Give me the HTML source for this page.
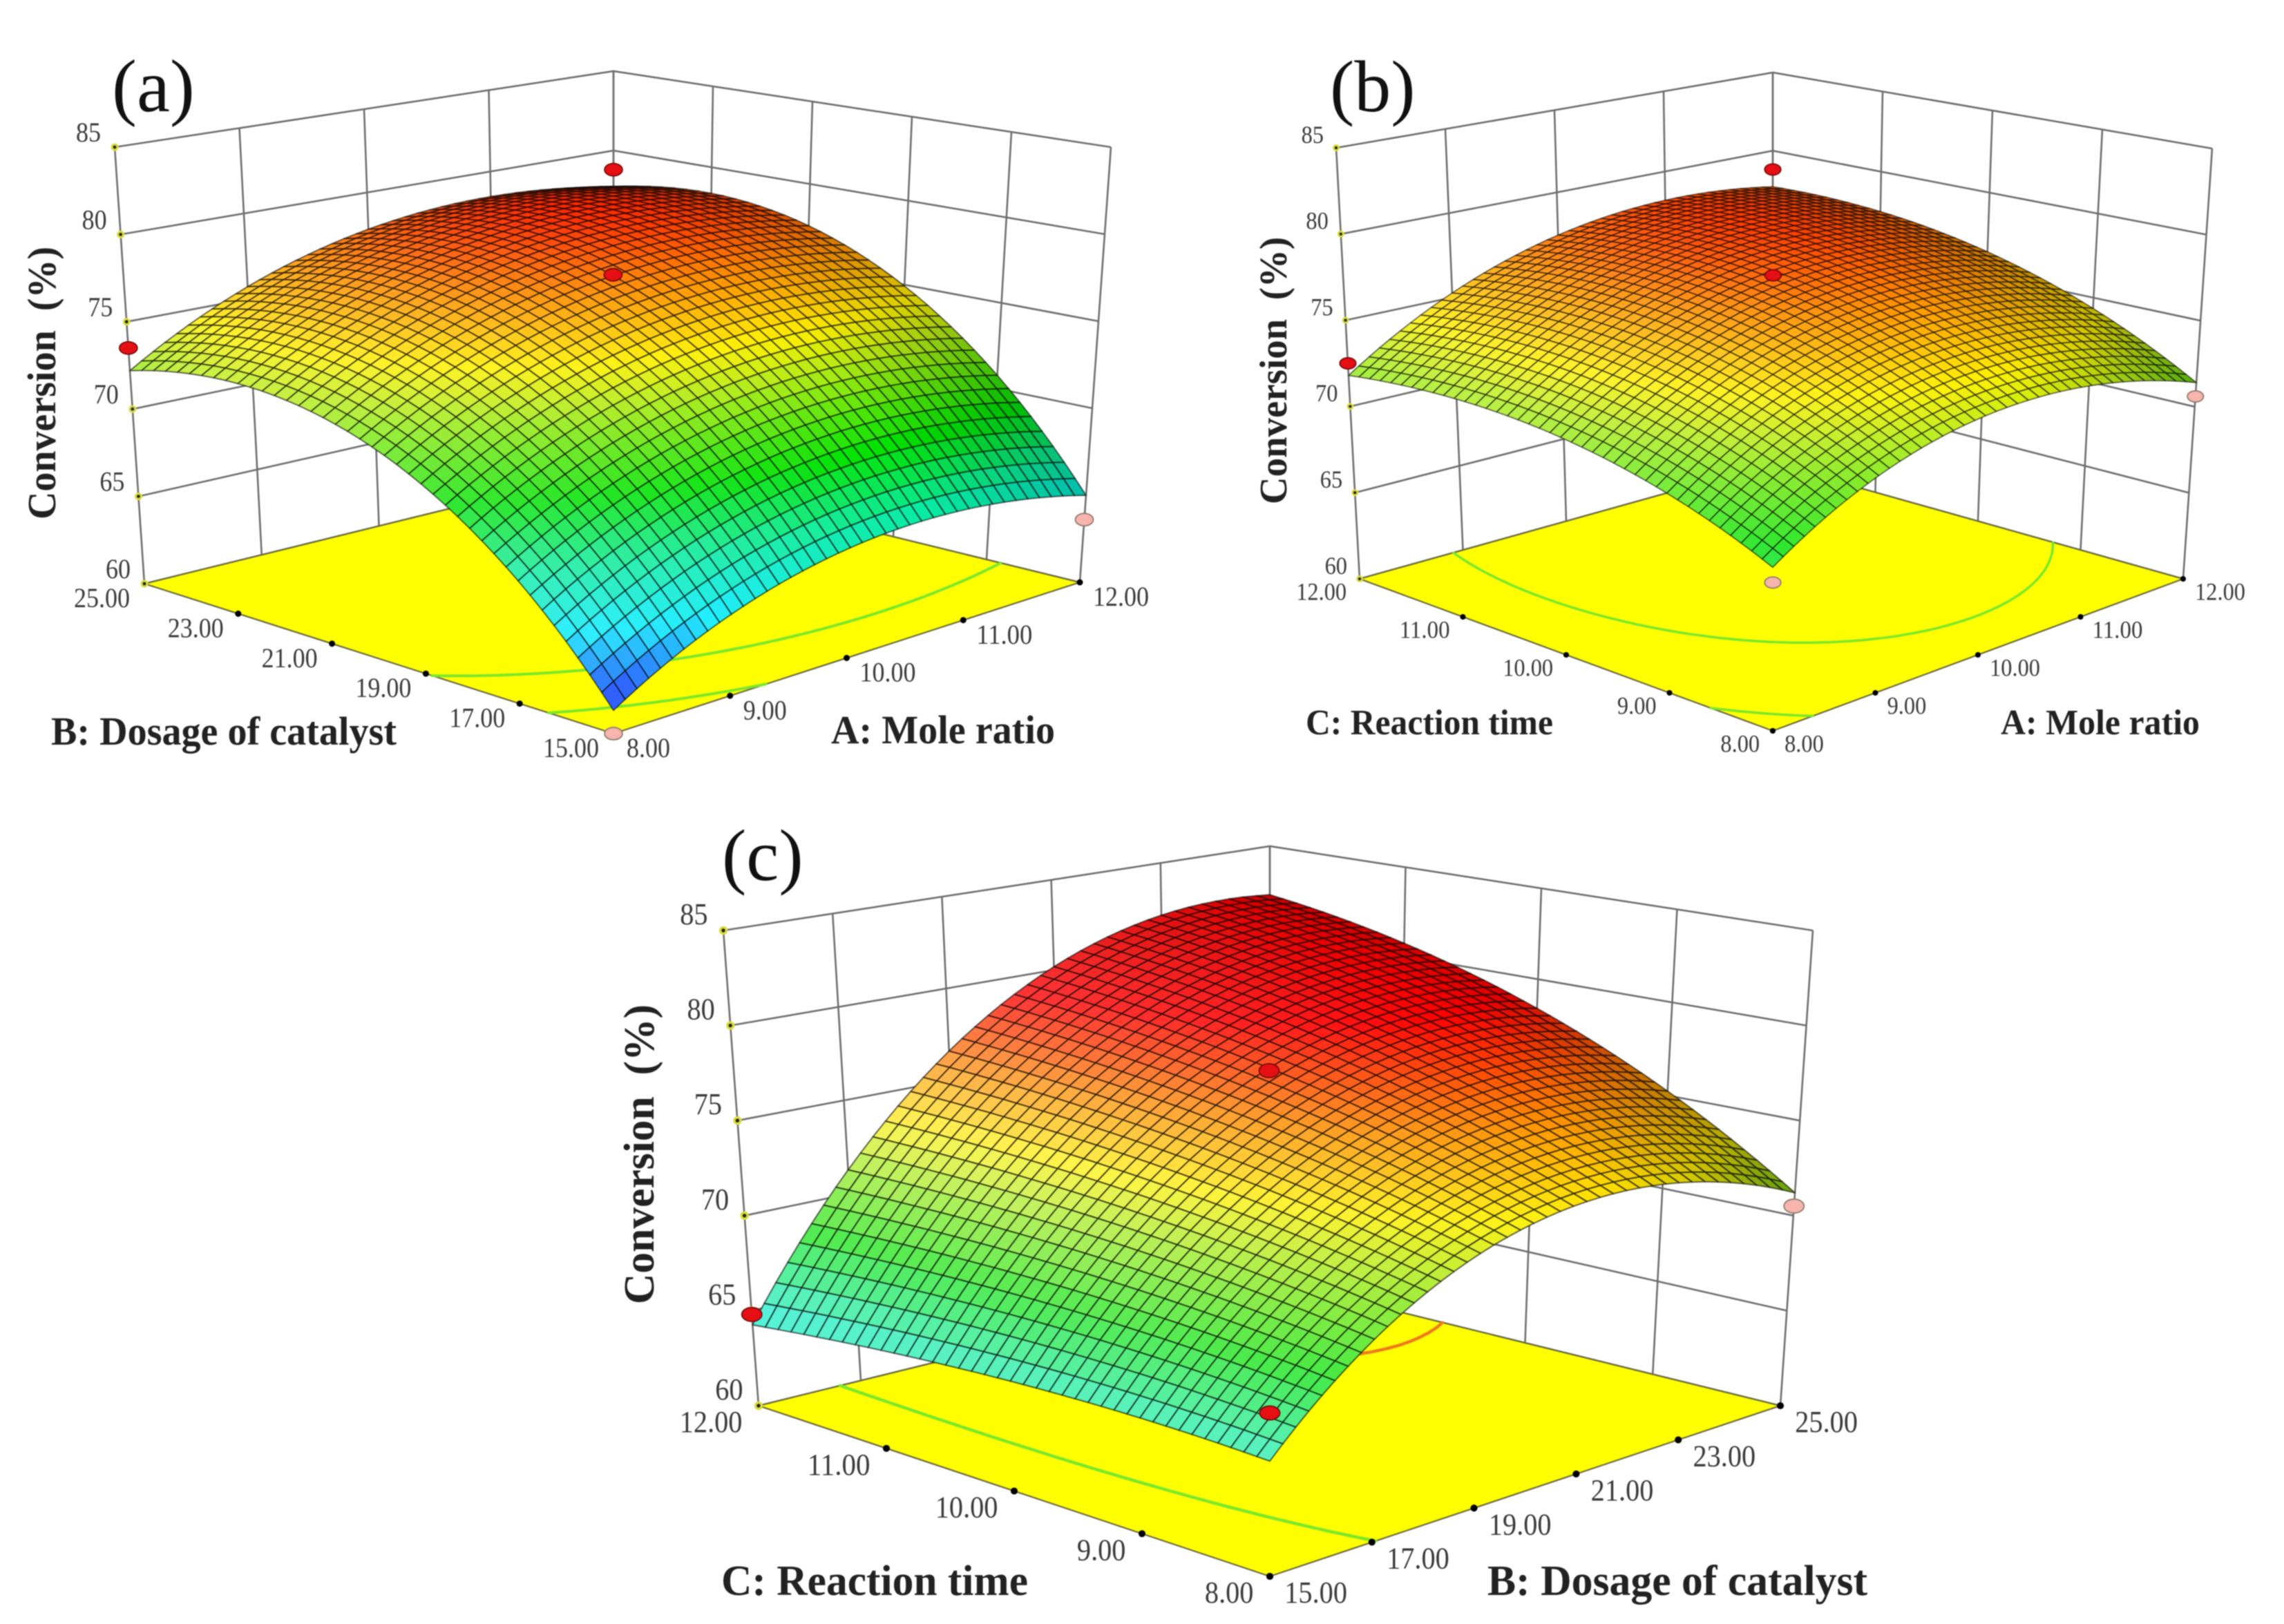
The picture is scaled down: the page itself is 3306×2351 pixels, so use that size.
<!DOCTYPE html>
<html>
<head>
<meta charset="utf-8">
<title>Response surface plots of conversion</title>
<style>
html,body{margin:0;padding:0;background:#fff;}
svg{display:block;filter:blur(0.7px);}
text{font-family:"Liberation Serif",serif;}
</style>
</head>
<body>
<svg id="chart" xmlns="http://www.w3.org/2000/svg" width="3306" height="2351" viewBox="0 0 3306 2351"></svg>
<script>
// ---- data ----
const zTicks = [60, 65, 70, 75, 80, 85];
const moleRatioTicks = [8, 9, 10, 11, 12];
const catalystTicks = [15, 17, 19, 21, 23, 25];
const timeTicks = [8, 9, 10, 11, 12];

// response at low / mid / high of each factor (rows: second factor, cols: first factor)
const surfaceA = [
  [61.2, 66.0, 65.0],
  [71.5, 76.7, 76.4],
  [72.2, 77.8, 77.7]
];
const surfaceB = [
  [68.6, 73.2, 71.4],
  [72.0, 77.4, 76.4],
  [71.8, 77.4, 77.7]
];
const surfaceC = [
  [65.5, 73.4, 71.2],
  [65.5, 76.8, 78.4],
  [64.25, 78.6, 82.2]
];

// design points
const pointsAFirst = [12, 10, 8, 12, 8];
const pointsASecond = [25, 20, 25, 15, 15];
const pointsAResponse = [78.8, 78.1, 73.5, 63.6, 60.0];
const pointsAAbove = [1, 1, 1, 0, 0];

const pointsBFirst = [12, 10, 8, 12, 8];
const pointsBSecond = [12, 10, 12, 8, 8];
const pointsBResponse = [78.8, 78.1, 72.5, 70.6, 67.8];
const pointsBAbove = [1, 1, 1, 0, 0];

const pointsCFirst = [15, 20, 15, 25];
const pointsCSecond = [8, 10, 12, 8];
const pointsCResponse = [67.8, 78.15, 64.8, 70.5];
const pointsCAbove = [1, 1, 1, 0];

const contourLevelsA = [65, 70];
const contourLevelsB = [70, 75];
const contourLevelsC = [70, 80];

// colour ramp
const rampValues = [61, 63.3, 66, 68.5, 72, 73.5, 76, 79, 83];
const rampReds = [0, 0, 10, 0, 180, 255, 255, 255, 215];
const rampGreens = [60, 235, 235, 225, 235, 240, 140, 0, 0];
const rampBlues = [255, 255, 150, 0, 20, 0, 0, 0, 0];

const CELLS = 40;
const NS = 'http://www.w3.org/2000/svg';
const svg = document.getElementById('chart');

// ---- layout ----
const panels = [
  {
    id: 'a', first: moleRatioTicks, second: catalystTicks, grid: surfaceA, levels: contourLevelsA,
    pf: pointsAFirst, ps: pointsASecond, pz: pointsAResponse, pa: pointsAAbove,
    floor: [[888, 1062], [1563, 843], [888, 678], [209, 845]],
    top: [[888, 362], [1608, 213], [888, 103], [166, 213]],
    s: 1, sw: 1.9, rampShift: 1.0,
    letter: '(a)', lx: 162, ly: 161, lf: 108,
    secondTitle: 'B: Dosage of catalyst', secondX: 74, secondW: 500, firstTitle: 'A: Mole ratio', firstX: 1203, firstW: 324,
    secondY: 1078, firstY: 1076, tf: 58,
    convX: 80, convY0: 752, convL: 395, convF: 58
  },
  {
    id: 'b', first: moleRatioTicks, second: timeTicks, grid: surfaceB, levels: contourLevelsB,
    pf: pointsBFirst, ps: pointsBSecond, pz: pointsBResponse, pa: pointsBAbove,
    floor: [[2566, 1058], [3160, 838], [2566, 671], [1968, 838]],
    top: [[2566, 370], [3202, 215], [2566, 105], [1934, 214]],
    s: 0.9, sw: 1.7, rampShift: 0.8,
    letter: '(b)', lx: 1925, ly: 161, lf: 106,
    secondTitle: 'C: Reaction time', secondX: 1890, secondW: 358, firstTitle: 'A: Mole ratio', firstX: 2896, firstW: 288,
    secondY: 1063, firstY: 1063, tf: 52,
    convX: 1862, convY0: 730, convL: 387, convF: 56
  },
  {
    id: 'c', first: catalystTicks, second: timeTicks, grid: surfaceC, levels: contourLevelsC,
    pf: pointsCFirst, ps: pointsCSecond, pz: pointsCResponse, pa: pointsCAbove,
    floor: [[1838, 2282], [2577, 2035], [1838, 1853], [1098, 2035]],
    top: [[1838, 1524], [2624, 1347], [1838, 1225], [1047, 1347]],
    s: 1.12, sw: 2.0, rampShift: 0,
    letter: '(c)', lx: 1045, ly: 1274, lf: 106,
    secondTitle: 'C: Reaction time', secondX: 1044, secondW: 444, firstTitle: 'B: Dosage of catalyst', firstX: 2153, firstW: 550,
    secondY: 2309, firstY: 2309, tf: 62,
    convX: 946, convY0: 1888, convL: 434, convF: 62
  }
];

const contourColorFor = level => level >= 80 ? '#ee7a1e' : '#7be82a';

function bilinear(q) {
  return (u, v) => [
    q[0][0] * (1 - u) * (1 - v) + q[1][0] * u * (1 - v) + q[2][0] * u * v + q[3][0] * (1 - u) * v,
    q[0][1] * (1 - u) * (1 - v) + q[1][1] * u * (1 - v) + q[2][1] * u * v + q[3][1] * (1 - u) * v
  ];
}

function make(tag, attrs, parent) {
  const el = document.createElementNS(NS, tag);
  for (const k in attrs) el.setAttribute(k, attrs[k]);
  parent.appendChild(el);
  return el;
}

function rampColor(z) {
  const n = rampValues.length;
  if (z <= rampValues[0]) return [rampReds[0], rampGreens[0], rampBlues[0]];
  if (z >= rampValues[n - 1]) return [rampReds[n - 1], rampGreens[n - 1], rampBlues[n - 1]];
  let i = 0;
  while (z > rampValues[i + 1]) i++;
  const t = (z - rampValues[i]) / (rampValues[i + 1] - rampValues[i]);
  return [
    rampReds[i] + (rampReds[i + 1] - rampReds[i]) * t,
    rampGreens[i] + (rampGreens[i + 1] - rampGreens[i]) * t,
    rampBlues[i] + (rampBlues[i + 1] - rampBlues[i]) * t
  ];
}

function lagrange(t) {
  return [2 * (t - 0.5) * (t - 1), -4 * t * (t - 1), 2 * t * (t - 0.5)];
}

function fixedLabelWidth(str, fs) {
  let w = 0;
  for (const c of str) w += (c === '.' ? 0.25 : 0.5);
  return w * fs * 0.9;
}

function drawPanel(p) {
  const g = make('g', {}, svg);
  
  

  const floorAt = bilinear(p.floor);
  const topAt = bilinear(p.top);
  const zNorm = z => (z - zTicks[0]) / (zTicks[zTicks.length - 1] - zTicks[0]);
  const project = (u, v, z) => {
    const a = floorAt(u, v), b = topAt(u, v), t = zNorm(z);
    return [a[0] + (b[0] - a[0]) * t, a[1] + (b[1] - a[1]) * t];
  };
  const uScale = val => (val - p.first[0]) / (p.first[p.first.length - 1] - p.first[0]);
  const vScale = val => (val - p.second[0]) / (p.second[p.second.length - 1] - p.second[0]);
  const surface = (u, v) => {
    const lu = lagrange(u), lv = lagrange(v);
    let z = 0;
    for (let r = 0; r < 3; r++) for (let c = 0; c < 3; c++) z += lv[r] * lu[c] * p.grid[r][c];
    return z;
  };
  const zMin = zTicks[0], zMax = zTicks[zTicks.length - 1];
  const wallStyle = { stroke: '#6e6e6e', 'stroke-width': 2.6, fill: 'none' };

  // walls
  const walls = make('g', wallStyle, g);
  
  
  zTicks.forEach(z => {
    const a = project(0, 1, z), b = project(1, 1, z), c = project(1, 0, z);
    const line = make('polyline', { points: a.join(',') + ' ' + b.join(',') + ' ' + c.join(',') }, walls);
    
    
  });
  p.first.forEach(t => {
    const u = uScale(t), a = project(u, 1, zMin), b = project(u, 1, zMax);
    const line = make('line', { x1: a[0], y1: a[1], x2: b[0], y2: b[1] }, walls);
    
    
  });
  p.second.forEach(t => {
    const v = vScale(t), a = project(1, v, zMin), b = project(1, v, zMax);
    const line = make('line', { x1: a[0], y1: a[1], x2: b[0], y2: b[1] }, walls);
    
    
  });

  // floor
  const floorPoly = make('polygon', {
    points: p.floor.map(q => q.join(',')).join(' '),
    fill: '#ffff00', stroke: '#6b6b40', 'stroke-width': 2.2
  }, g);
  
  

  // contours on floor
  p.levels.forEach(level => {
    let d = '';
    const corner = (i, j) => surface(i / CELLS, j / CELLS);
    for (let i = 0; i < CELLS; i++) {
      for (let j = 0; j < CELLS; j++) {
        const vals = [corner(i, j), corner(i + 1, j), corner(i + 1, j + 1), corner(i, j + 1)];
        const pts = [[i, j], [i + 1, j], [i + 1, j + 1], [i, j + 1]];
        const cross = [];
        for (let k = 0; k < 4; k++) {
          const a = vals[k], b = vals[(k + 1) % 4];
          if ((a < level) !== (b < level)) {
            const t = (level - a) / (b - a);
            const q = pts[k], r = pts[(k + 1) % 4];
            cross.push(floorAt((q[0] + (r[0] - q[0]) * t) / CELLS, (q[1] + (r[1] - q[1]) * t) / CELLS));
          }
        }
        if (cross.length >= 2) {
          d += 'M' + cross[0][0].toFixed(1) + ' ' + cross[0][1].toFixed(1) + 'L' + cross[1][0].toFixed(1) + ' ' + cross[1][1].toFixed(1);
        }
      }
    }
    if (d) {
      const path = make('path', { d: d, fill: 'none', stroke: contourColorFor(level), 'stroke-width': 4 * p.s, 'stroke-linecap': 'round' }, g);
      
      
    }
  });

  // floor ticks
  p.first.forEach(t => {
    const q = floorAt(uScale(t), 0);
    const dot = make('circle', { cx: q[0], cy: q[1], r: 4.5 * p.s, fill: '#000' }, g);
    
    
    const str = t.toFixed(2), fs = 40 * p.s;
    const tx = make('text', {
      x: q[0] + 19 * p.s, y: q[1] + 34 * p.s, 'font-size': fs, fill: '#3a3a3a',
      textLength: fixedLabelWidth(str, fs), lengthAdjust: 'spacingAndGlyphs'
    }, g);
    tx.textContent = str;
    
    
  });
  p.second.forEach(t => {
    const q = floorAt(0, vScale(t));
    const dot = make('circle', { cx: q[0], cy: q[1], r: 4.5 * p.s, fill: '#000' }, g);
    
    
    const str = t.toFixed(2), fs = 40 * p.s;
    const w = fixedLabelWidth(str, fs);
    const tx = make('text', {
      x: q[0] - 21 * p.s - w, y: q[1] + 34 * p.s, 'font-size': fs, fill: '#3a3a3a',
      textLength: w, lengthAdjust: 'spacingAndGlyphs'
    }, g);
    tx.textContent = str;
    
    
  });

  // surface, painted back to front
  const mesh = make('g', { stroke: '#000', 'stroke-opacity': 0.58, 'stroke-width': p.sw, 'stroke-linejoin': 'round' }, g);
  
  
  for (let i = CELLS - 1; i >= 0; i--) {
    for (let j = CELLS - 1; j >= 0; j--) {
      const u0 = i / CELLS, u1 = (i + 1) / CELLS, v0 = j / CELLS, v1 = (j + 1) / CELLS;
      const z00 = surface(u0, v0), z10 = surface(u1, v0), z11 = surface(u1, v1), z01 = surface(u0, v1);
      const zc = (z00 + z10 + z11 + z01) / 4;
      const dzu = ((z10 + z11) - (z00 + z01)) / 2 * CELLS / 2;
      const col = rampColor(zc - p.rampShift);
      let shade = dzu < 0 ? 0.05 * dzu : 0.025 * dzu;
      shade = Math.max(-0.3, Math.min(0.32, shade));
      const rgb = col.map(c => shade >= 0 ? c + (255 - c) * shade : c * (1 + shade)).map(Math.round);
      const pts = [project(u0, v0, z00), project(u1, v0, z10), project(u1, v1, z11), project(u0, v1, z01)];
      const cell = make('polygon', {
        points: pts.map(q => q[0].toFixed(1) + ',' + q[1].toFixed(1)).join(' '),
        fill: 'rgb(' + rgb.join(',') + ')'
      }, mesh);
      
      
    }
  }

  // z ticks and labels
  zTicks.forEach(z => {
    const q = project(0, 1, z);
    const halo = make('circle', { cx: q[0], cy: q[1], r: 5.5 * p.s, fill: '#d8dc3c' }, g);
    
    
    const core = make('circle', { cx: q[0], cy: q[1], r: 2.4 * p.s, fill: '#222' }, g);
    
    
    const str = String(z), fs = 40 * p.s;
    const w = fixedLabelWidth(str, fs);
    const tx = make('text', {
      x: q[0] - 20 * p.s - w, y: q[1] - 8 * p.s, 'font-size': fs, fill: '#3a3a3a',
      textLength: w, lengthAdjust: 'spacingAndGlyphs'
    }, g);
    tx.textContent = str;
    
    
  });

  // design points
  p.pz.forEach((z, k) => {
    const q = project(uScale(p.pf[k]), vScale(p.ps[k]), z);
    const above = p.pa[k] === 1;
    const pt = make('ellipse', {
      cx: q[0], cy: q[1], rx: 13 * p.s, ry: 9 * p.s,
      fill: above ? '#e60f14' : '#f6b4ac',
      stroke: above ? '#7a0a0a' : '#8f7a70', 'stroke-width': 1.8
    }, g);
    
    
  });

  // titles
  const letter = make('text', { x: p.lx, y: p.ly, 'font-size': p.lf, fill: '#111' }, g);
  letter.textContent = p.letter;
  
  

  const t2 = make('text', {
    x: p.secondX, y: p.secondY, 'font-size': p.tf, 'font-weight': 'bold', fill: '#222',
    textLength: p.secondW, lengthAdjust: 'spacingAndGlyphs'
  }, g);
  t2.textContent = p.secondTitle;
  
  

  const t1 = make('text', {
    x: p.firstX, y: p.firstY, 'font-size': p.tf, 'font-weight': 'bold', fill: '#222',
    textLength: p.firstW, lengthAdjust: 'spacingAndGlyphs'
  }, g);
  t1.textContent = p.firstTitle;
  
  

  const conv = make('text', {
    transform: 'translate(' + p.convX + ',' + p.convY0 + ') rotate(-90)',
    'font-size': p.convF, 'font-weight': 'bold', fill: '#222',
    textLength: p.convL, lengthAdjust: 'spacingAndGlyphs', 'xml:space': 'preserve'
  }, g);
  conv.style.whiteSpace = 'pre';
  conv.textContent = 'Conversion  (%)';
  
  
}

panels.forEach(drawPanel);
</script>
</body>
</html>
